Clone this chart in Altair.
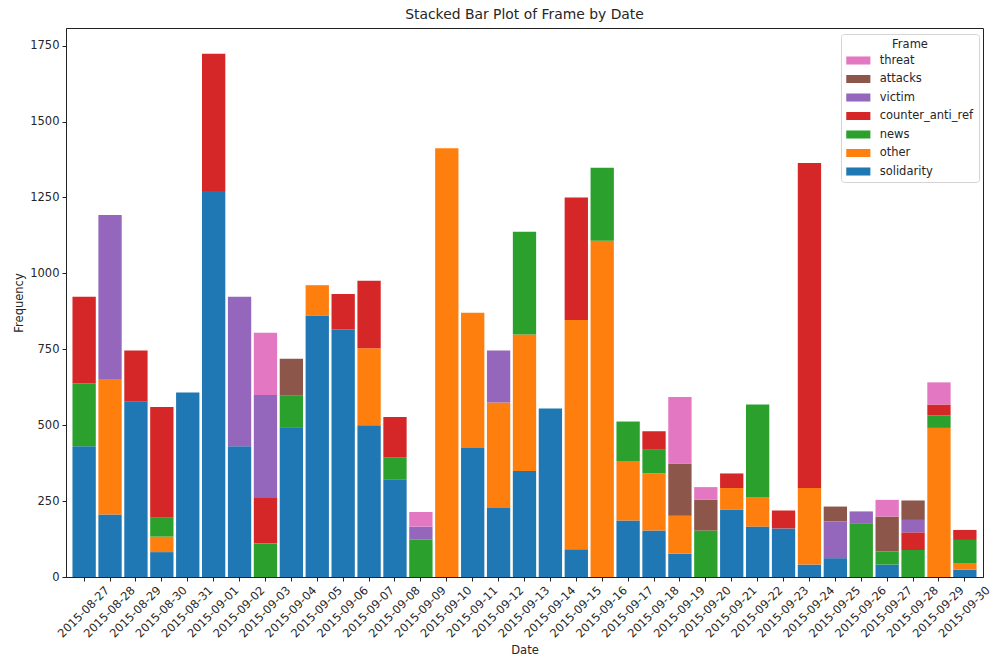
import altair as alt
import pandas as pd

# Dates on the x axis
dates = [
    "2015-08-27", "2015-08-28", "2015-08-29", "2015-08-30", "2015-08-31",
    "2015-09-01", "2015-09-02", "2015-09-03", "2015-09-04", "2015-09-05",
    "2015-09-06", "2015-09-07", "2015-09-08", "2015-09-09", "2015-09-10",
    "2015-09-11", "2015-09-12", "2015-09-13", "2015-09-14", "2015-09-15",
    "2015-09-16", "2015-09-17", "2015-09-18", "2015-09-19", "2015-09-20",
    "2015-09-21", "2015-09-22", "2015-09-23", "2015-09-24", "2015-09-25",
    "2015-09-26", "2015-09-27", "2015-09-28", "2015-09-29", "2015-09-30",
]

# Daily counts per frame
solidarity = [431, 206, 577, 82, 608, 1271, 431, 0, 491, 860,
              815, 500, 322, 0, 0, 425, 227, 349, 555, 91,
              0, 186, 153, 77, 0, 222, 166, 160, 41, 62,
              0, 41, 0, 0, 24]
other = [0, 446, 0, 51, 0, 0, 0, 0, 0, 101,
         0, 253, 0, 0, 1412, 445, 348, 450, 0, 755,
         1107, 196, 188, 125, 0, 71, 97, 0, 252, 0,
         0, 0, 0, 491, 22]
news = [206, 0, 0, 64, 0, 0, 0, 110, 106, 0,
        0, 0, 71, 124, 0, 0, 0, 338, 0, 0,
        241, 130, 78, 0, 153, 0, 305, 0, 0, 0,
        175, 43, 89, 41, 76]
counter_anti_ref = [286, 0, 169, 363, 0, 452, 0, 150, 0, 0,
                    117, 223, 134, 0, 0, 0, 0, 0, 0, 404,
                    0, 0, 61, 0, 0, 48, 0, 59, 1070, 0,
                    0, 0, 58, 36, 33]
victim = [0, 540, 0, 0, 0, 0, 492, 339, 0, 0,
          0, 0, 0, 42, 0, 0, 171, 0, 0, 0,
          0, 0, 0, 0, 0, 0, 0, 0, 0, 121,
          41, 0, 41, 0, 0]
attacks = [0, 0, 0, 0, 0, 0, 0, 0, 122, 0,
           0, 0, 0, 0, 0, 0, 0, 0, 0, 0,
           0, 0, 0, 172, 102, 0, 0, 0, 0, 49,
           0, 115, 64, 0, 0]
threat = [0, 0, 0, 0, 0, 0, 0, 205, 0, 0,
          0, 0, 0, 48, 0, 0, 0, 0, 0, 0,
          0, 0, 0, 219, 41, 0, 0, 0, 0, 0,
          0, 55, 0, 73, 0]

# Stack order, bottom to top
frames = ["solidarity", "other", "news", "counter_anti_ref", "victim", "attacks", "threat"]
series = [solidarity, other, news, counter_anti_ref, victim, attacks, threat]
colors = ["#1f77b4", "#ff7f0e", "#2ca02c", "#d62728", "#9467bd", "#8c564b", "#e377c2"]

rows = []
for k, (frame, vals) in enumerate(zip(frames, series)):
    for d, v in zip(dates, vals):
        if v > 0:
            rows.append({"Date": d, "Frame": frame, "Frequency": v, "stack": k})
df = pd.DataFrame(rows)

legend_order = frames[::-1]
legend_colors = colors[::-1]

FONT = "DejaVu Sans"
TEXT = "#262626"
FS = 11.5

chart = alt.Chart(df).mark_bar().encode(
    x=alt.X(
        "Date:N",
        sort=dates,
        title="Date",
        scale=alt.Scale(paddingInner=0.1, paddingOuter=0.25),
        axis=alt.Axis(
            labelAngle=-45,
            labelAlign="center",
            labelBaseline="middle",
            labelPadding=31,
            tickSize=4,
            titlePadding=5,
        ),
    ),
    y=alt.Y(
        "Frequency:Q",
        stack="zero",
        title="Frequency",
        scale=alt.Scale(domain=[0, 1808], nice=False),
        axis=alt.Axis(
            values=[0, 250, 500, 750, 1000, 1250, 1500, 1750],
            format="d",
            tickSize=4,
            labelPadding=3,
            titlePadding=5,
        ),
    ),
    color=alt.Color(
        "Frame:N",
        scale=alt.Scale(domain=legend_order, range=legend_colors),
        legend=alt.Legend(
            title="Frame",
            orient="none",
            legendX=775,
            legendY=6,
            fillColor="white",
            strokeColor="#d4d4d4",
            cornerRadius=3,
            padding=5,
            titleAnchor="middle",
            titleFontSize=FS,
            titleFontWeight="normal",
            titleFont=FONT,
            titleColor=TEXT,
            titlePadding=4,
            labelFontSize=FS,
            labelFont=FONT,
            labelColor=TEXT,
            symbolType="M-1,-0.7L3.2,-0.7L3.2,0.7L-1,0.7Z",
            symbolSize=132,
            symbolStrokeWidth=0,
            symbolOpacity=1,
            labelOffset=21.7,
            rowPadding=6.5,
        ),
    ),
    order=alt.Order("stack:Q", sort="ascending"),
).properties(
    width=917,
    height=549,
    title=alt.Title(
        "Stacked Bar Plot of Frame by Date",
        fontSize=13.9,
        font=FONT,
        fontWeight="normal",
        color=TEXT,
        offset=6,
    ),
    padding={"left": 66, "top": 28, "right": 18, "bottom": 83},
    autosize="none",
).configure_view(
    stroke="#222222", strokeWidth=1
).configure_axis(
    grid=False,
    domainColor="#222222",
    tickColor="#222222",
    labelFont=FONT,
    labelFontSize=FS,
    labelColor=TEXT,
    titleFont=FONT,
    titleFontSize=FS,
    titleFontWeight="normal",
    titleColor=TEXT,
)

chart.save("out.html", embed_options={"renderer": "svg", "actions": False})
